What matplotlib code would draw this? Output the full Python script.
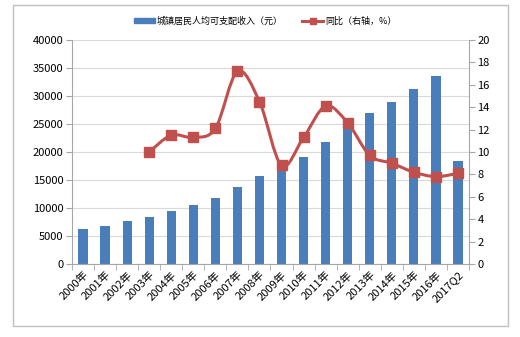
import numpy as np
import matplotlib.pyplot as plt
from matplotlib.path import Path
from matplotlib.patches import PathPatch, Rectangle
from matplotlib.lines import Line2D

plt.rcParams['font.family'] = ['Noto Sans CJK SC', 'DejaVu Sans']

# data
years = ['2000年', '2001年', '2002年', '2003年', '2004年', '2005年', '2006年', '2007年', '2008年',
         '2009年', '2010年', '2011年', '2012年', '2013年', '2014年', '2015年', '2016年', '2017Q2']
income = [6280, 6860, 7700, 8470, 9420, 10490, 11760, 13790, 15780,
          17175, 19109, 21810, 24565, 26955, 28844, 31195, 33616, 18322]
yoy_idx = list(range(3, 18))
yoy = [10.0, 11.5, 11.3, 12.1, 17.2, 14.5, 8.8, 11.3, 14.1, 12.6, 9.7, 9.0, 8.2, 7.8, 8.1]

bar_c = '#4A7EBB'
line_c = '#C0504D'
grid_c = '#D9D9D9'
axis_c = '#A6A6A6'

fig = plt.figure(figsize=(5.2, 3.37), dpi=100)
fig.add_artist(Rectangle((13/520, 1-326/337), 495/520, 321/337, transform=fig.transFigure,
                         fill=False, ec='#BFBFBF', lw=1))
ax = fig.add_axes([72/520, 1-264/337, 397/520, 224/337])
x = np.arange(len(years))
ax.bar(x, income, width=0.42, color=bar_c, zorder=2)
ax.set_xlim(-0.5, len(years)-0.5)
ax.set_ylim(0, 40000)
ax.set_yticks(range(0, 40001, 5000))
ax.yaxis.grid(True, color=grid_c, lw=0.8)
ax.set_axisbelow(True)
ax.set_xticks(x)
ax.set_xticklabels(years, rotation=45, ha='right', rotation_mode='anchor', fontsize=8)
ax.tick_params(axis='x', length=0, pad=4)
ax.set_xticks(np.arange(-0.5, len(years)), minor=True)
ax.tick_params(axis='x', which='minor', length=4, color=axis_c)
ax.tick_params(axis='y', labelsize=8, length=4, color=axis_c, pad=2)
for s in ['top', 'right']:
    ax.spines[s].set_visible(False)
for s in ['left', 'bottom']:
    ax.spines[s].set_color(axis_c)

ax2 = ax.twinx()
ax2.set_ylim(0, 20)
ax2.set_yticks(range(0, 21, 2))
ax2.tick_params(axis='y', labelsize=8, length=4, color=axis_c, pad=2)
for s in ['top', 'left', 'bottom']:
    ax2.spines[s].set_visible(False)
ax2.spines['right'].set_color(axis_c)

# smoothed line (Catmull-Rom as cubic bezier)
px = np.array(yoy_idx, dtype=float)
py = np.array(yoy)
verts = [(px[0], py[0])]
codes = [Path.MOVETO]
n = len(px)
for i in range(n-1):
    p0 = (px[max(i-1, 0)], py[max(i-1, 0)])
    p1 = (px[i], py[i])
    p2 = (px[i+1], py[i+1])
    p3 = (px[min(i+2, n-1)], py[min(i+2, n-1)])
    c1 = (p1[0] + (p2[0]-p0[0])/6, p1[1] + (p2[1]-p0[1])/6)
    c2 = (p2[0] - (p3[0]-p1[0])/6, p2[1] - (p3[1]-p1[1])/6)
    verts += [c1, c2, p2]
    codes += [Path.CURVE4]*3
ax2.add_patch(PathPatch(Path(verts, codes), fill=False, ec=line_c, lw=2.2, zorder=3))
ax2.plot(px, py, ls='none', marker='s', ms=7, color=line_c, zorder=4)

handles = [Rectangle((0, 0), 1, 1, color=bar_c),
           Line2D([], [], color=line_c, lw=2.2, marker='s', ms=5)]
fig.legend(handles, ['城镇居民人均可支配收入（元）', '同比（右轴，%）'], loc='center',
           bbox_to_anchor=(0.51, 1-21/337), ncol=2, frameon=False, fontsize=6.5,
           handlelength=2.3, handleheight=0.6, columnspacing=2.2, handletextpad=0.2)

fig.savefig('out.png', dpi=100)
